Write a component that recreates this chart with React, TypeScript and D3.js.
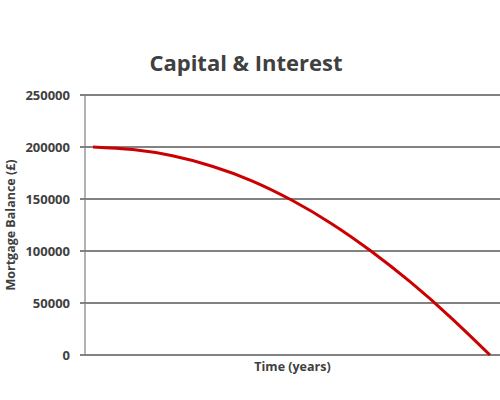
import React from "react";
import * as d3 from "d3";

const title = "Capital & Interest";
const yAxisTitle = "Mortgage Balance (£)";
const xAxisTitle = "Time (years)";
const yTicks = [0, 50000, 100000, 150000, 200000, 250000];
const years = [0, 2.5, 5, 7.5, 10, 12.5, 15, 17.5, 20, 22.5, 25];
const balance = [200000, 197500, 191500, 181500, 167500, 149000, 126500, 100000, 70000, 36500, 0];

const W = 500;
const H = 400;
const plotLeft = 85;
const plotRight = 500;
const plotTop = 95;
const plotBottom = 355;

export default function App() {
  const y = d3.scaleLinear().domain([0, 250000]).range([plotBottom, plotTop]);
  const x = d3.scaleLinear().domain([0, 25]).range([93, 490]);
  const line = d3
    .line<number>()
    .x((_, i) => x(years[i]))
    .y((d) => y(d))
    .curve(d3.curveNatural);
  const textColor = "#404040";
  return (
    <svg
      width={W}
      height={H}
      style={{ position: "absolute", left: 0, top: 0, background: "#fff" }}
      fontFamily="'Open Sans', sans-serif"
    >
      <rect width={W} height={H} fill="#fff" />
      <text x={246} y={71} textAnchor="middle" fontSize={22} fontWeight="bold" fill={textColor}>
        {title}
      </text>
      {yTicks.map((t) => (
        <g key={t}>
          <line x1={80} x2={plotRight} y1={y(t)} y2={y(t)} stroke="#595959" strokeWidth={1.5} />
          <text x={70} y={y(t)} dy="0.35em" textAnchor="end" fontSize={13} fontWeight="bold" fill={textColor}>
            {t}
          </text>
        </g>
      ))}
      <line x1={plotLeft} x2={plotLeft} y1={plotTop} y2={plotBottom} stroke="#7f7f7f" strokeWidth={1.2} />
      <path d={line(balance) || ""} fill="none" stroke="#cc0000" strokeWidth={3} />
      <text
        transform={`translate(11,${(plotTop + plotBottom) / 2}) rotate(-90)`}
        textAnchor="middle"
        dy="0.35em"
        fontSize={12.5}
        fontWeight="bold"
        fill={textColor}
      >
        {yAxisTitle}
      </text>
      <text x={(plotLeft + plotRight) / 2} y={371} textAnchor="middle" fontSize={12.5} fontWeight="bold" fill={textColor}>
        {xAxisTitle}
      </text>
    </svg>
  );
}
